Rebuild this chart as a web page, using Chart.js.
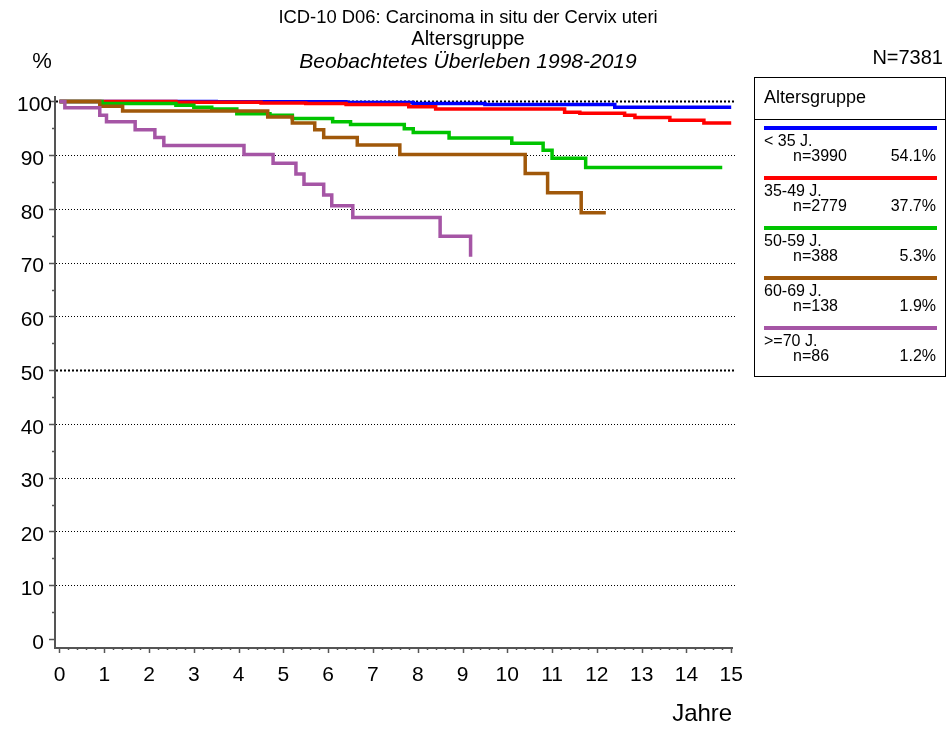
<!DOCTYPE html>
<html>
<head>
<meta charset="utf-8">
<script src="https://cdn.jsdelivr.net/npm/chart.js@4"></script>
<style>
  html, body { margin: 0; padding: 0; background: #fff; }
  body { width: 947px; height: 729px; position: relative; overflow: hidden; font-family: "Liberation Sans", Arial, sans-serif; color: #000; }
  #c { position: absolute; left: 0; top: 0; }
  .t { position: absolute; left: 168px; width: 600px; text-align: center; white-space: nowrap; line-height: 1; }
  #legend { position: absolute; left: 754px; top: 77px; width: 190px; height: 298px; border: 1px solid #000; box-sizing: content-box; }
  .abs { position: absolute; white-space: nowrap; line-height: 1; }
</style>
</head>
<body>
<canvas id="c" width="947" height="729"></canvas>
<div class="t" style="top:8px;font-size:18.4px;">ICD-10 D06: Carcinoma in situ der Cervix uteri</div>
<div class="t" style="top:28px;font-size:20px;">Altersgruppe</div>
<div class="t" style="top:50px;font-size:21px;font-style:italic;">Beobachtetes Überleben 1998-2019</div>
<div class="abs" style="right:4px;top:47px;font-size:20px;">N=7381</div>
<div id="legend"></div>
<script>
// ---- data ----
const groupLabels = ['< 35 J.', '35-49 J.', '50-59 J.', '60-69 J.', '>=70 J.'];
const groupN = ['n=3990', 'n=2779', 'n=388', 'n=138', 'n=86'];
const groupPct = ['54.1%', '37.7%', '5.3%', '1.9%', '1.2%'];
const groupColors = ['#0000ff', '#ff0000', '#00c400', '#a0580a', '#a555a5'];
const legendTitle = 'Altersgruppe';

const under35Years = [0, 3.5, 6.4, 7.9, 9.5, 12.4, 15];
const under35Surv  = [100, 99.95, 99.8, 99.6, 99.4, 98.9, 98.9];

const age35to49Years = [0, 2.6, 4.5, 5.5, 6.4, 7.8, 8.4, 11.28, 11.62, 12.62, 12.85, 13.63, 14.39, 15];
const age35to49Surv  = [100, 99.85, 99.7, 99.6, 99.4, 99.0, 98.6, 98.0, 97.8, 97.4, 97.0, 96.5, 96.0, 96.0];

const age50to59Years = [0, 0.95, 2.6, 3.0, 3.4, 3.96, 4.7, 5.2, 6.1, 6.5, 7.7, 7.9, 8.7, 10.1, 10.8, 11.0, 11.75, 14.8];
const age50to59Surv  = [100, 99.6, 99.3, 98.9, 98.6, 97.7, 97.4, 96.8, 96.2, 95.7, 94.9, 94.2, 93.2, 92.2, 90.9, 89.4, 87.7, 87.7];

const age60to69Years = [0, 0.9, 1.41, 4.65, 5.2, 5.7, 5.9, 6.65, 7.6, 10.4, 10.9, 11.65, 12.2];
const age60to69Surv  = [100, 99.1, 98.2, 97.1, 96.0, 94.7, 93.3, 91.9, 90.1, 86.6, 83.0, 79.3, 79.3];

const age70plusYears = [0, 0.12, 0.9, 1.05, 1.69, 2.13, 2.33, 4.12, 4.77, 5.28, 5.46, 5.9, 6.08, 6.55, 8.5, 9.18];
const age70plusSurv  = [100, 98.8, 97.4, 96.2, 94.7, 93.3, 91.8, 90.1, 88.5, 86.5, 84.6, 82.6, 80.6, 78.4, 74.9, 71.1];

const yTickValues = [0, 10, 20, 30, 40, 50, 60, 70, 80, 90, 100];
const xTickValues = [0, 1, 2, 3, 4, 5, 6, 7, 8, 9, 10, 11, 12, 13, 14, 15];
const xAxisTitle = 'Jahre';
const yAxisTitle = '%';

// ---- build ----
const seriesYears = [under35Years, age35to49Years, age50to59Years, age60to69Years, age70plusYears];
const seriesSurv = [under35Surv, age35to49Surv, age50to59Surv, age60to69Surv, age70plusSurv];

const datasets = seriesYears.map((yrs, i) => ({
  label: groupLabels[i],
  data: yrs.map((t, k) => ({ x: t, y: seriesSurv[i][k] })),
  borderColor: groupColors[i],
  backgroundColor: groupColors[i],
  borderWidth: 3.5,
  pointRadius: 0,
  stepped: true,
  fill: false,
  order: 4 - i,
  clip: false
}));

// legend
const lg = document.getElementById('legend');
let html = '<div class="abs" style="left:9px;top:10px;font-size:18px;">' + legendTitle + '</div>';
html += '<div class="abs" style="left:0;top:41px;width:190px;height:1px;background:#000;"></div>';
groupLabels.forEach((lab, i) => {
  const base = 48 + i * 50;
  html += '<div class="abs" style="left:9px;top:' + base + 'px;width:173px;height:3.5px;background:' + groupColors[i] + ';"></div>';
  html += '<div class="abs" style="left:9px;top:' + (base + 7) + 'px;font-size:16px;">' + lab.replace('<', '&lt;') + '</div>';
  html += '<div class="abs" style="left:38px;top:' + (base + 22) + 'px;font-size:16px;">' + groupN[i] + '</div>';
  html += '<div class="abs" style="right:9px;top:' + (base + 22) + 'px;font-size:16px;">' + groupPct[i] + '</div>';
});
lg.innerHTML = html;

const FONT = '"Liberation Sans", Arial, sans-serif';
const axesPlugin = {
  id: 'kmAxes',
  beforeDatasetsDraw(chart) {
    const ctx = chart.ctx;
    const xs = chart.scales.x, ys = chart.scales.y;
    const left = xs.left, right = xs.right, bottom = ys.bottom, top = ys.top;
    ctx.save();
    // grid lines
    yTickValues.forEach(v => {
      if (v === 0) return;
      const py = Math.round(ys.getPixelForValue(v)) + 0.5;
      const strong = (v === 50 || v === 100);
      ctx.beginPath();
      ctx.strokeStyle = '#000';
      ctx.lineWidth = strong ? 2 : 1;
      ctx.setLineDash(strong ? [2, 2] : [1, 2]);
      ctx.moveTo(left + 1, py);
      ctx.lineTo(right + 2, py);
      ctx.stroke();
    });
    ctx.setLineDash([]);
    // axis lines
    ctx.strokeStyle = '#555';
    ctx.lineWidth = 2;
    ctx.beginPath();
    ctx.moveTo(left, top);
    ctx.lineTo(left, bottom + 1);
    ctx.lineTo(right, bottom + 1);
    ctx.stroke();
    // y ticks
    ctx.lineWidth = 1.5;
    for (let v = 0; v <= 100; v += 5) {
      const py = Math.round(ys.getPixelForValue(v)) + 0.5;
      const len = (v % 10 === 0) ? 6 : 3;
      ctx.beginPath();
      ctx.moveTo(left - len, py);
      ctx.lineTo(left, py);
      ctx.stroke();
    }
    // x ticks
    for (let k = 0; k <= 75; k++) {
      const t = k / 5;
      const px = Math.round(xs.getPixelForValue(t)) + 0.5;
      const len = (k % 5 === 0) ? 6 : 3;
      ctx.beginPath();
      ctx.moveTo(px, bottom);
      ctx.lineTo(px, bottom + len);
      ctx.stroke();
    }
    // labels
    ctx.fillStyle = '#000';
    ctx.font = '21px ' + FONT;
    ctx.textBaseline = 'middle';
    ctx.textAlign = 'right';
    yTickValues.forEach(v => {
      const py = ys.getPixelForValue(v) + 4;
      const txt = String(v);
      ctx.fillText(txt, txt.length > 2 ? 52 : 44, py);
    });
    ctx.textAlign = 'center';
    xTickValues.forEach(v => {
      ctx.fillText(String(v), xs.getPixelForValue(v), 675);
    });
    ctx.font = '24px ' + FONT;
    ctx.textAlign = 'right';
    ctx.fillText(xAxisTitle, xs.getPixelForValue(15) + 1, 714);
    ctx.font = '22px ' + FONT;
    ctx.textAlign = 'center';
    ctx.fillText(yAxisTitle, 42, 62);
    ctx.restore();
  }
};

new Chart(document.getElementById('c'), {
  type: 'line',
  data: { datasets },
  options: {
    responsive: false,
    devicePixelRatio: 1,
    animation: false,
    layout: { padding: { left: 55, right: 214, top: 96, bottom: 82 } },
    plugins: { legend: { display: false }, tooltip: { enabled: false }, title: { display: false } },
    scales: {
      x: { type: 'linear', min: -0.1, max: 15.04, display: false },
      y: { type: 'linear', min: -1.5, max: 101, display: false }
    }
  },
  plugins: [axesPlugin]
});
</script>
</body>
</html>
